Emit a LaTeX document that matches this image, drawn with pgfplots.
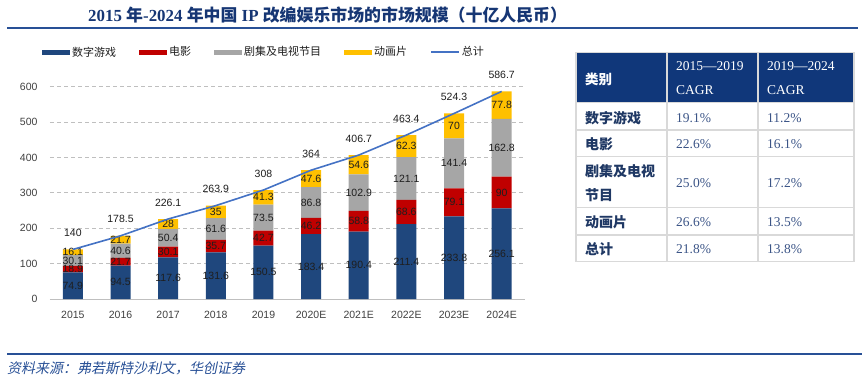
\documentclass[border=0pt]{standalone}
\usepackage{fontspec}
\usepackage{pgfplots}
\pgfplotsset{compat=1.18}
\setmainfont{Liberation Sans}
\newfontfamily\cjk{Noto Sans CJK SC}
\newfontfamily\cjkit[FakeSlant=0.2]{Noto Sans CJK SC}
\newfontfamily\serif{Liberation Serif}
\definecolor{gameblue}{RGB}{31,71,125}
\definecolor{filmred}{RGB}{192,0,0}
\definecolor{tvgray}{RGB}{166,166,166}
\definecolor{animyellow}{RGB}{255,192,0}
\definecolor{lineblue}{RGB}{68,114,196}
\definecolor{axisgray}{RGB}{191,191,191}
\definecolor{ticktext}{RGB}{64,64,64}
\definecolor{labeltext}{RGB}{30,30,30}
\definecolor{titleblue}{RGB}{22,54,116}
\definecolor{rulecol}{RGB}{40,80,150}
\definecolor{hdr}{RGB}{16,55,122}
\definecolor{tgrid}{RGB}{217,217,217}
\definecolor{catblue}{RGB}{31,56,100}
\definecolor{numblue}{RGB}{60,85,135}
\begin{document}
\begin{tikzpicture}
\useasboundingbox (0,0) rectangle (864pt,383pt);
% title
\node[anchor=west, inner sep=0pt, text=titleblue] at (88pt,368pt) {\fontsize{16.9}{18}\selectfont\bfseries
{\serif 2015 }{\cjk 年}{\serif -2024 }{\cjk 年中国}{\serif\ IP }{\cjk 改编娱乐市场的市场规模（十亿人民币）}};
\draw[rulecol, line width=1.5pt] (7pt,355pt) -- (858pt,355pt);
\draw[rulecol, line width=2pt] (7pt,29pt) -- (862pt,29pt);
\node[anchor=west, inner sep=0pt, text=rulecol] at (7pt,15pt) {\cjkit\fontsize{14}{16}\selectfont 资料来源：弗若斯特沙利文，华创证券};

\begin{axis}[
  at={(50pt,84pt)}, anchor=south west,
  scale only axis, width=475pt, height=212.3pt,
  xmin=-0.48, xmax=9.49, ymin=0, ymax=600,
  ybar stacked, bar width=20pt,
  xtick={0,...,9},
  xticklabels={2015,2016,2017,2018,2019,2020E,2021E,2022E,2023E,2024E},
  ytick={0,100,...,600},
  axis lines*=left,
  y axis line style={draw=none},
  x axis line style={draw=axisgray, line width=1pt},
  major tick length=0pt,
  ymajorgrids, grid style={axisgray, dash pattern=on 4pt off 3pt, line width=0.8pt},
  tick label style={font=\fontsize{10.5}{12}\selectfont, text=ticktext},
  xticklabel style={yshift=-9pt},
  yticklabel style={xshift=-9pt},
  /pgf/number format/assume math mode=true,
  clip=false,
  visualization depends on={rawy \as \rawy},
  nodes near coords={\pgfmathprintnumber{\rawy}},
  every node near coord/.append style={anchor=center, font=\fontsize{10.5}{12}\selectfont, text=labeltext, inner sep=0pt},
  legend style={at={(axis description cs:-0.0168,1.163)}, anchor=west, draw=none, fill=none,
    legend columns=5, /tikz/every even column/.append style={column sep=21pt},
    font=\cjk\fontsize{11}{13}\selectfont, text=labeltext, inner sep=0pt,
    nodes={inner xsep=2pt, inner ysep=0pt}},
]
\addplot[fill=gameblue, draw=none, legend image code/.code={\fill[gameblue] (0pt,-2.5pt) rectangle (28pt,2.5pt);}] coordinates {(0,74.9) (1,94.5) (2,117.6) (3,131.6) (4,150.5) (5,183.4) (6,190.4) (7,211.4) (8,233.8) (9,256.1)};
\addlegendentry{数字游戏}
\addplot[fill=filmred, draw=none, legend image code/.code={\fill[filmred] (0pt,-2.5pt) rectangle (28pt,2.5pt);}] coordinates {(0,18.9) (1,21.7) (2,30.1) (3,35.7) (4,42.7) (5,46.2) (6,58.8) (7,68.6) (8,79.1) (9,90)};
\addlegendentry{电影}
\addplot[fill=tvgray, draw=none, legend image code/.code={\fill[tvgray] (0pt,-2.5pt) rectangle (28pt,2.5pt);}] coordinates {(0,30.1) (1,40.6) (2,50.4) (3,61.6) (4,73.5) (5,86.8) (6,102.9) (7,121.1) (8,141.4) (9,162.8)};
\addlegendentry{剧集及电视节目}
\addplot[fill=animyellow, draw=none, legend image code/.code={\fill[animyellow] (0pt,-2.5pt) rectangle (28pt,2.5pt);}] coordinates {(0,16.1) (1,21.7) (2,28) (3,35) (4,41.3) (5,47.6) (6,54.6) (7,62.3) (8,70) (9,77.8)};
\addlegendentry{动画片}
\addlegendimage{legend image code/.code={\draw[lineblue, line width=1.6pt] (0pt,0pt) -- (28pt,0pt);}}
\addlegendentry{总计}
\end{axis}

\begin{axis}[
  at={(50pt,84pt)}, anchor=south west,
  scale only axis, width=475pt, height=212.3pt,
  xmin=-0.48, xmax=9.49, ymin=0, ymax=600,
  axis lines=none, clip=false,
  /pgf/number format/assume math mode=true,
  nodes near coords={\pgfmathprintnumber{\pgfplotspointmeta}},
  every node near coord/.append style={anchor=center, yshift=16.6pt, font=\fontsize{10.5}{12}\selectfont, text=labeltext, inner sep=0pt},
]
\addplot[lineblue, line width=1.6pt, mark=none] coordinates {(0,140) (1,178.5) (2,226.1) (3,263.9) (4,308) (5,364) (6,406.7) (7,463.4) (8,524.3) (9,586.7)};
\end{axis}

% table
\fill[hdr] (576pt,280.3pt) rectangle (854pt,330.3pt);
\foreach \yy in {280.3,253,226.3,175.3,148} {\draw[tgrid, line width=1.5pt] (576pt,\yy pt) -- (854pt,\yy pt);}
\foreach \xx in {667,758} {\draw[tgrid, line width=1.5pt] (\xx pt,121.3pt) -- (\xx pt,330.3pt);}
\draw[tgrid, line width=1.5pt] (576pt,121.3pt) rectangle (854pt,330.3pt);
\begin{scope}[every node/.style={anchor=west, inner sep=0pt}]
\node[text=white] at (585pt,304pt) {\cjk\bfseries\fontsize{13.5}{15}\selectfont 类别};
\node[text=white] at (676pt,317.3pt) {\serif\fontsize{13.5}{15}\selectfont 2015—2019};
\node[text=white] at (676pt,293pt) {\serif\fontsize{13.5}{15}\selectfont CAGR};
\node[text=white] at (767pt,317.3pt) {\serif\fontsize{13.5}{15}\selectfont 2019—2024};
\node[text=white] at (767pt,293pt) {\serif\fontsize{13.5}{15}\selectfont CAGR};
\node[text=catblue] at (585pt,265.3pt) {\cjk\bfseries\fontsize{14}{16}\selectfont 数字游戏};
\node[text=catblue] at (585pt,239pt) {\cjk\bfseries\fontsize{14}{16}\selectfont 电影};
\node[text=catblue] at (585pt,212pt) {\cjk\bfseries\fontsize{14}{16}\selectfont 剧集及电视};
\node[text=catblue] at (585pt,188pt) {\cjk\bfseries\fontsize{14}{16}\selectfont 节目};
\node[text=catblue] at (585pt,161pt) {\cjk\bfseries\fontsize{14}{16}\selectfont 动画片};
\node[text=catblue] at (585pt,134pt) {\cjk\bfseries\fontsize{14}{16}\selectfont 总计};
\foreach \yy/\a/\b in {265.3/19.1/11.2, 239/22.6/16.1, 200/25.0/17.2, 161/26.6/13.5, 134/21.8/13.8} {
  \node[text=numblue] at (676pt,\yy pt) {\serif\fontsize{13.5}{15}\selectfont \a\%};
  \node[text=numblue] at (767pt,\yy pt) {\serif\fontsize{13.5}{15}\selectfont \b\%};
}
\end{scope}
\end{tikzpicture}
\end{document}
